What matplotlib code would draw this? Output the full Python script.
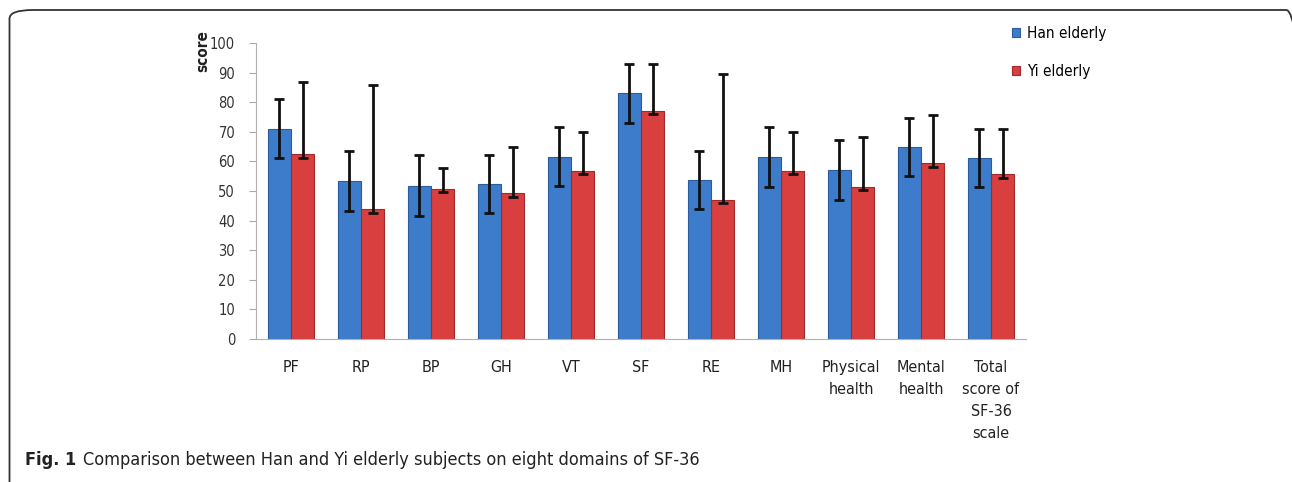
import numpy as np
import matplotlib.pyplot as plt
from matplotlib import font_manager
from matplotlib.patches import FancyBboxPatch

categories = ["PF", "RP", "BP", "GH", "VT", "SF", "RE", "MH",
              "Physical\nhealth", "Mental\nhealth", "Total\nscore of\nSF-36\nscale"]
han_mean = [71.1, 53.5, 51.8, 52.4, 61.6, 83.0, 53.7, 61.5, 57.1, 64.9, 61.3]
han_sd = [10.1, 10.1, 10.2, 9.9, 9.9, 10.0, 9.9, 10.0, 10.1, 9.9, 9.8]
yi_mean = [62.4, 43.8, 50.8, 49.3, 56.9, 77.1, 47.0, 56.9, 51.4, 59.6, 55.7]
yi_upper = [86.8, 85.7, 57.7, 64.8, 69.8, 93.0, 89.6, 70.1, 68.3, 75.7, 71.0]
yi_lower = [61.3, 42.7, 49.6, 48.0, 55.7, 75.9, 45.9, 55.7, 50.2, 58.2, 54.5]

# look for a condensed face; otherwise Lato
cond = [f for f in font_manager.fontManager.ttflist
        if ("Narrow" in f.name or "Condensed" in f.name
            or f.stretch in ("condensed", "semi-condensed"))]
reg = [f for f in cond if f.weight in (400, "normal", "regular") and f.style == "normal"]
bld = [f for f in cond if f.weight in (700, "bold") and f.style == "normal"]
if reg:
    fp = font_manager.FontProperties(fname=reg[0].fname)
    fpb = font_manager.FontProperties(fname=(bld or reg)[0].fname)
    s = 1.0
else:
    fp = font_manager.FontProperties(family="Lato")
    fpb = font_manager.FontProperties(family="Lato", weight="bold")
    s = 0.88

def fprop(base, size):
    p = base.copy()
    p.set_size(size * s)
    return p

W, H = 1292, 482
fig = plt.figure(figsize=(W / 100, H / 100), dpi=100)
ax = fig.add_axes([256 / W, (H - 339) / H, 770 / W, 296 / H])

x = np.arange(len(categories))
w = 0.33
blue = "#3d7cca"
red = "#d83f3e"

ax.bar(x - w / 2, han_mean, w, color=blue, edgecolor="#2b5c9e", linewidth=0.8,
       label="Han elderly", zorder=2)
ax.bar(x + w / 2, yi_mean, w, color=red, edgecolor="#a12b2b", linewidth=0.8,
       label="Yi elderly", zorder=2)

ax.errorbar(x - w / 2, han_mean, yerr=han_sd, fmt="none", ecolor="#111111",
            elinewidth=2, capsize=3.4, capthick=2, zorder=3)
yi_err = [np.array(yi_mean) - np.array(yi_lower), np.array(yi_upper) - np.array(yi_mean)]
ax.errorbar(x + w / 2, yi_mean, yerr=yi_err, fmt="none", ecolor="#111111",
            elinewidth=2, capsize=3.4, capthick=2, zorder=3)

ax.set_xlim(-0.5, len(categories) - 0.5)
ax.set_ylim(0, 100)
ax.set_yticks(np.arange(0, 101, 10))
ax.set_yticklabels([str(v) for v in range(0, 101, 10)], fontproperties=fprop(fp, 10.5),
                   color="#333333")
ax.tick_params(axis="y", length=5, color="#aaaaaa", pad=10)
ax.set_xticks(x)
ax.set_xticklabels(categories, fontproperties=fprop(fp, 11.5), color="#222222",
                   linespacing=1.58)
ax.tick_params(axis="x", length=0, pad=15)

for sp in ["top", "right"]:
    ax.spines[sp].set_visible(False)
ax.spines["left"].set_color("#b0b0b0")
ax.spines["bottom"].set_color("#b0b0b0")

fig.text(203 / W, 1 - 51 / H, "score", rotation=90, fontproperties=fprop(fpb, 11),
         ha="center", va="center", color="#222222")

fig.legend(loc="upper left", bbox_to_anchor=(1004 / W, 1 - 18 / H),
           frameon=False, handlelength=0.55, handleheight=0.55, borderpad=0,
           labelspacing=1.5, handletextpad=0.45, prop=fprop(fp, 11))

fig.patches.append(FancyBboxPatch((9.5 / W, -0.1), 1300 / W, 1.1 - 10 / H,
                                  boxstyle="round,pad=0,rounding_size=0.018",
                                  transform=fig.transFigure, fill=False,
                                  edgecolor="#333333", linewidth=1.3))

fig.text(25 / W, 1 - 460 / H, "Fig. 1", fontproperties=fprop(fpb, 13),
         va="center", color="#222222")
fig.text(83 / W, 1 - 460 / H,
         "Comparison between Han and Yi elderly subjects on eight domains of SF-36",
         fontproperties=fprop(fp, 13), va="center", color="#222222")

fig.savefig("out.png", dpi=100)
